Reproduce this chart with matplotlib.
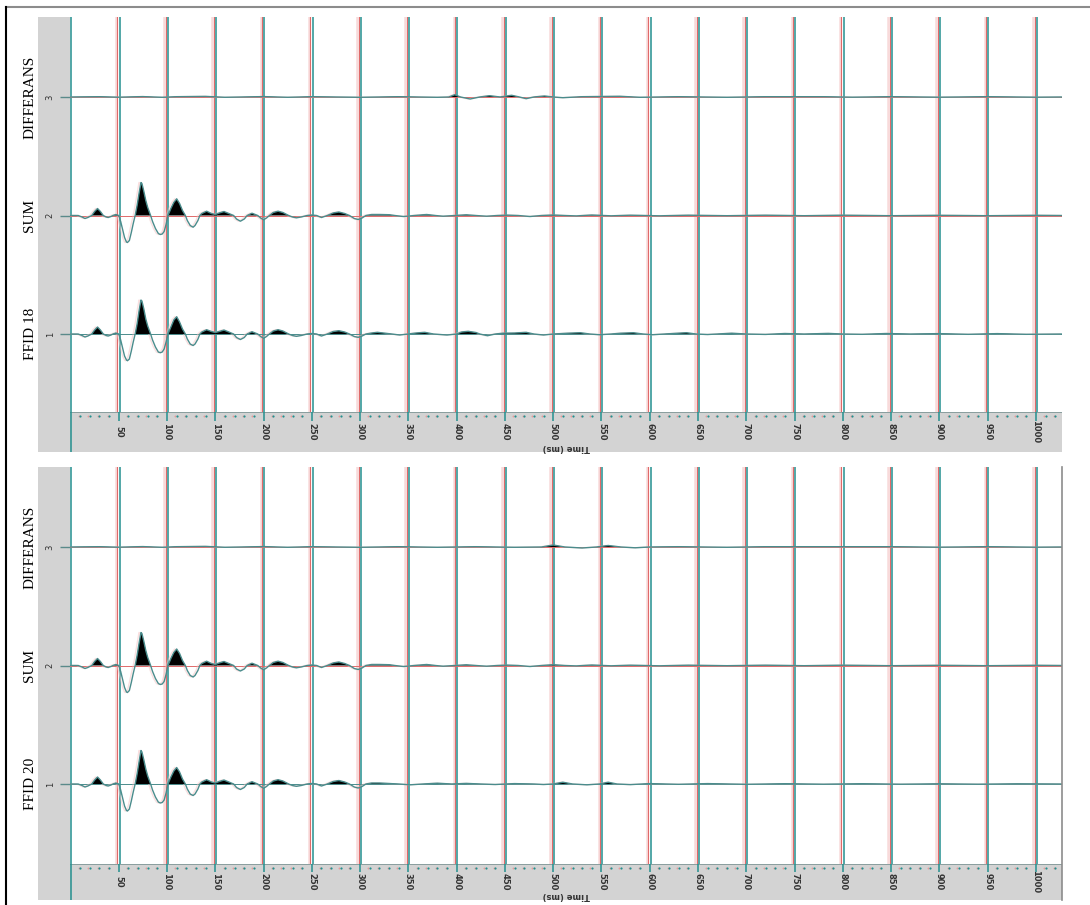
import numpy as np
import matplotlib.pyplot as plt
from matplotlib.lines import Line2D
from matplotlib.patches import Rectangle
from matplotlib.transforms import blended_transform_factory

W, H = 1090, 905

# ---- data -------------------------------------------------------------
# trace labels from bottom (1) to top (3)
LABELS_TOP = ["FFID 18", "SUM", "DIFFERANS"]
LABELS_BOT = ["FFID 20", "SUM", "DIFFERANS"]
TRACE_NO = ["1", "2", "3"]
TICK_MS = [50, 100, 150, 200, 250, 300, 350, 400, 450, 500,
           550, 600, 650, 700, 750, 800, 850, 900, 950, 1000]

# shared time samples (ms) for the first-arrival part of the traces
T_HEAD = [0, 8, 12, 15, 18, 22, 25, 28, 31, 34,
          37, 39, 42, 44, 47, 50, 52, 54, 56, 58,
          59, 61, 63, 65, 67, 69, 71, 73, 74, 76,
          78, 80, 83, 85, 88, 91, 93, 95, 97, 99,
          101, 104, 107, 110, 113, 116, 119, 121, 124, 127,
          129, 132, 134, 136, 141, 146, 150, 154, 159, 164,
          169, 172, 176, 180, 183, 188, 194, 197, 200, 203,
          206, 210, 215, 220, 226, 230, 234, 239, 245, 250,
          255, 260, 266, 272, 278, 284, 289, 294, 298, 302,
          306]

SUM_TOP_HEAD = [0, 0, -1.5, -3, -2, 0, 4, 7, 4, 0,
                -1.5, -2, -1, 0, 1, 0, -6, -14, -22, -26.5,
                -27, -25, -17, -8, 0, 10, 22, 33, 32, 24,
                15, 8, 0, -6, -13, -18, -19, -18.5, -16, -9,
                0, 7, 13, 16.7, 12, 5, 0, -5, -10, -11.7,
                -10, -5, 0, 2, 4.3, 2, 1, 2.5, 4, 2,
                0, -3.5, -5.7, -3.5, 0, 2.3, 0, -2.5, -4.3, -2.5,
                0, 3, 4.3, 3, 0, -1.5, -2.3, -1.5, 0, 0.5,
                0, -2, 0, 2.5, 3.5, 2, 0, -3, -4, -2.5,
                0]
FFID18_HEAD = [0, 0, -1.5, -3, -2, 0, 4, 7, 4, 0,
               -1.5, -2, -1, 0, 1, 0, -6, -14, -22, -26,
               -26.7, -25, -17, -8, 0, 10, 23, 34, 33, 25,
               15, 8, 0, -6, -13, -18, -18.7, -18, -15, -8,
               0, 7, 14, 17.3, 12, 5, 0, -5, -10, -11.5,
               -10, -5, 0, 2, 4.3, 2.5, 1.5, 2.5, 4, 2,
               0, -3.5, -5.5, -3.5, 0, 2.3, 0, -2.5, -4.3, -2.5,
               0, 3, 4.3, 3, 0, -1.5, -2.3, -1.5, 0, 0.5,
               0, -2, 0, 2.5, 3.3, 2, 0, -2.5, -3.3, -2,
               0]
SUM_BOT_HEAD = [0, 0, -1.5, -3, -2, 0, 4, 7, 4, 0,
                -1.5, -2, -1, 0, 1, 0, -6, -14, -22, -26.5,
                -27, -25, -17, -8, 0, 10, 22, 33, 32, 24,
                15, 8, 0, -6, -13, -18, -19, -18.5, -16, -9,
                0, 7, 13, 16.5, 12, 5, 0, -5, -10, -11.5,
                -10, -5, 0, 2, 4.3, 2, 1, 2.5, 4, 2,
                0, -3.5, -5.5, -3.5, 0, 2.3, 0, -2.5, -4.3, -2.5,
                0, 3, 4.3, 3, 0, -1.5, -2.3, -1.5, 0, 0.5,
                0, -2, 0, 2.5, 3.5, 2, 0, -3, -4, -2.5,
                0]
FFID20_HEAD = [0, 0, -1.5, -3, -2, 0, 4, 7, 4, 0,
               -1.5, -2, -1, 0, 1, 0, -6, -14, -22, -26.5,
               -27, -25, -17, -8, 0, 10, 22, 33.5, 32, 24,
               15, 8, 0, -6, -13, -18, -19, -18.5, -16, -9,
               0, 7, 13, 16.5, 12, 5, 0, -5, -10, -11.5,
               -10, -5, 0, 2, 4.3, 2, 1, 2.5, 4, 2,
               0, -3.5, -5.5, -3.5, 0, 2.3, 0, -2.5, -4.3, -2.5,
               0, 3, 4.3, 3, 0, -1.5, -2.3, -1.5, 0, 0.5,
               0, -2, 0, 2.5, 3.5, 2, 0, -3, -4, -2.5,
               0]

# later part of each trace: (ms) and amplitude
T_SUM_TOP_TAIL = [312, 320, 330, 336, 345, 356, 369, 378, 386, 398, 410, 420, 431, 442,
                  452, 464, 476, 488, 500, 512, 524, 540, 560, 580, 610, 640, 680, 720,
                  760, 800, 850, 900, 950, 1000, 1027]
A_SUM_TOP_TAIL = [1, 1, 0.8, 0, -1, 0, 1, 0, -0.7, 0, 0.7, 0, -0.7, 0,
                  0.4, 0, -1, 0, 0.5, 0, -0.4, 0.5, -0.3, 0.3, -0.3, 0.3, -0.2, 0.3,
                  -0.2, 0.3, -0.2, 0.2, -0.2, 0.2, 0]

T_FFID18_TAIL = [312, 318, 326, 333, 341, 350, 358, 367, 376, 390, 400, 405, 412, 420,
                 424, 432, 440, 448, 460, 472, 480, 490, 500, 515, 528, 538, 548, 560,
                 570, 583, 593, 603, 615, 627, 638, 648, 660, 685, 700, 720, 740, 760,
                 785, 800, 820, 845, 870, 900, 930, 960, 990, 1027]
A_FFID18_TAIL = [1, 1.7, 0.8, 0, -1, 0, 1, 1.7, 0, -1, 0, 2, 2.7, 1.5,
                 0, -1.7, 0, 0.8, 1, 1.7, 0, -1, 0, 0.8, 1.3, 0, -0.7, 0,
                 0.8, 1.3, 0, -0.7, 0, 0.8, 1.3, 0, -0.5, 0.8, 0, -0.4, 0.5, 0,
                 0.6, 0, -0.3, 0.5, 0, 0.4, -0.3, 0.4, -0.3, 0]

T_SUM_BOT_TAIL = [312, 320, 330, 336, 345, 356, 369, 378, 386, 398, 410, 420, 431, 442,
                  452, 464, 476, 488, 500, 512, 524, 540, 560, 580, 610, 640, 680, 720,
                  760, 800, 850, 900, 950, 1000, 1027]
A_SUM_BOT_TAIL = [1, 1, 0.8, 0, -1, 0, 1, 0, -0.7, 0, 0.7, 0, -0.7, 0,
                  0.4, 0, -1, 0, 0.8, 0, -0.4, 0.5, -0.3, 0.3, -0.3, 0.3, -0.2, 0.3,
                  -0.2, 0.3, -0.2, 0.2, -0.2, 0.2, 0]

T_FFID20_TAIL = [312, 320, 330, 340, 352, 365, 380, 395, 410, 425, 440, 460, 480, 490,
                 500, 510, 520, 535, 548, 557, 566, 580, 600, 630, 660, 700, 740, 780,
                 820, 860, 900, 940, 980, 1027]
A_FFID20_TAIL = [1, 1, 0.5, 0, -0.8, 0, 0.8, 0, 0.6, 0, -0.5, 0.4, 0, -0.5,
                 0, 1.8, 0, -0.8, 0, 1.8, 0, -0.6, 0.4, -0.3, 0.4, -0.3, 0.3, -0.2,
                 0.3, -0.2, 0.2, -0.2, 0.2, 0]

T_DIFF_TOP = [0, 30, 50, 75, 95, 110, 140, 160, 200, 225, 250, 300, 340, 380,
              392, 398, 404, 414, 424, 434, 445, 457, 465, 472, 480, 491, 500, 510,
              530, 569, 590, 630, 680, 720, 780, 810, 850, 900, 950, 1000, 1027]
A_DIFF_TOP = [0, 0.3, -0.2, 0.4, -0.3, 0.3, 0.6, -0.3, 0.4, -0.3, 0.3, -0.3, 0.3, -0.3,
              0, 2.3, 0, -2, 0, 1.3, 0, 1.7, 0, -1.7, 0, 1, 0, -0.7,
              0.3, 0.7, -0.3, 0.3, -0.3, 0.3, 0.3, -0.2, 0.3, -0.2, 0.3, -0.2, 0]

T_DIFF_BOT = [0, 30, 50, 75, 95, 110, 140, 160, 200, 225, 250, 300, 340, 380,
              420, 460, 488, 500, 512, 530, 545, 557, 570, 585, 600, 630, 680, 720,
              780, 850, 900, 950, 1000, 1027]
A_DIFF_BOT = [0, 0.3, -0.2, 0.4, -0.3, 0.3, 0.6, -0.3, 0.4, -0.3, 0.3, -0.3, 0.3, -0.3,
              0.3, -0.3, 0, 2, 0, -1, 0, 1.5, 0, -0.8, 0, 0.3, -0.3, 0.3,
              0.3, 0.3, -0.2, 0.3, -0.2, 0]

# ---- style ------------------------------------------------------------
RED = "#e06a6a"
TEAL = "#23908f"
PINK = "#f8dada"
WIGGLE = "#4a8c8c"
GRAY = "#d3d3d3"
GAIN = 1 / 118.5          # amplitude unit -> trace spacing
XLIM = (-0.5, 1027)
SERIF = "Liberation Serif"

fig = plt.figure(figsize=(W / 100, H / 100), dpi=100)
fig.patch.set_facecolor("white")


def box(x0, y0, x1, y1):
    return [x0 / W, 1 - y1 / H, (x1 - x0) / W, (y1 - y0) / H]


def draw_panel(top, bottom, strip_bottom, ylim, labels, traces):
    fig.add_artist(Rectangle((38 / W, 1 - strip_bottom / H), (1062 - 38) / W,
                             (strip_bottom - top) / H, transform=fig.transFigure,
                             facecolor=GRAY, edgecolor="none", zorder=0))
    ax = fig.add_axes(box(70, top, 1062, bottom))
    ax.set_facecolor("white")
    ax.set_xlim(XLIM)
    ax.set_ylim(ylim)
    for s in ax.spines.values():
        s.set_visible(False)
    ax.set_xticks([])
    ax.set_yticks([1, 2, 3])
    ax.set_yticklabels(TRACE_NO, rotation=90, va="center", fontsize=6, color="#333333")
    ax.tick_params(axis="y", length=7, width=1, color="#5a8a8a", pad=4)

    # time lines every 50 ms (red/teal double line)
    for t in [0] + TICK_MS:
        ax.axvline(t - 3.0, color=PINK, lw=1.8, zorder=1)
        ax.axvline(t - 1.4, color=RED, lw=0.8, zorder=2)
        ax.axvline(t + 0.8, color=TEAL, lw=1.1, zorder=2)

    for i, (tt, aa) in enumerate(traces):
        y0 = i + 1
        tt = np.asarray(tt, float)
        aa = np.asarray(aa, float)
        ax.axhline(y0, color=RED if i > 0 else WIGGLE, lw=0.7, zorder=3)
        ax.plot(tt - 2.0, y0 + aa * GAIN, color="#f4c0c0", lw=1.0, alpha=0.5, zorder=3)
        ax.fill_between(tt, y0, y0 + aa * GAIN, where=aa > 0, interpolate=True,
                        color="black", lw=0, zorder=4)
        ax.plot(tt, y0 + aa * GAIN, color=WIGGLE, lw=1.0, zorder=5)

    trans = blended_transform_factory(fig.transFigure, ax.transData)
    for i, lab in enumerate(labels):
        ax.text(30 / W, i + 1, lab, transform=trans, rotation=90, ha="center",
                va="center", fontsize=11, family=SERIF, color="black")

    # time axis strip
    sx = fig.add_axes(box(70, bottom, 1062, strip_bottom))
    sx.set_facecolor(GRAY)
    sx.set_xlim(XLIM)
    sx.set_ylim(0, 1)
    sx.set_xticks([])
    sx.set_yticks([])
    for s in sx.spines.values():
        s.set_visible(False)
    sx.axhline(1, color="#8a9e9e", lw=1.4)
    sx.axvline(-1.4, color=RED, lw=0.8)
    sx.axvline(0.8, color=TEAL, lw=1.1)
    minor = [m for m in range(10, 1021, 10) if m % 50]
    sx.scatter(np.array(minor) - 1.5, [0.89] * len(minor), s=2, color="#e89a9a", lw=0)
    sx.scatter(minor, [0.89] * len(minor), s=2.5, color=TEAL, lw=0)
    sx.vlines(TICK_MS, 0.78, 1, color=TEAL, lw=1.1)
    for t in TICK_MS:
        sx.text(t, 0.5, str(t), rotation=270, ha="center", va="center",
                fontsize=6, color="#333333", fontweight="bold")
    sx.text(np.mean(XLIM), 0.12, "Time (ms)", rotation=180, ha="center", va="center",
            fontsize=6, color="#333333", fontweight="bold")
    return ax


top_traces = [(np.r_[T_HEAD, T_FFID18_TAIL], np.r_[FFID18_HEAD, A_FFID18_TAIL]),
              (np.r_[T_HEAD, T_SUM_TOP_TAIL], np.r_[SUM_TOP_HEAD, A_SUM_TOP_TAIL]),
              (T_DIFF_TOP, A_DIFF_TOP)]
bot_traces = [(np.r_[T_HEAD, T_FFID20_TAIL], np.r_[FFID20_HEAD, A_FFID20_TAIL]),
              (np.r_[T_HEAD, T_SUM_BOT_TAIL], np.r_[SUM_BOT_HEAD, A_SUM_BOT_TAIL]),
              (T_DIFF_BOT, A_DIFF_BOT)]

draw_panel(17, 412, 452, (0.342, 3.675), LABELS_TOP, top_traces)
draw_panel(467, 864, 900, (0.325, 3.675), LABELS_BOT, bot_traces)

# outer frame
fig.add_artist(Line2D([6 / W, 1.0], [1 - 7 / H, 1 - 7 / H], transform=fig.transFigure,
                      color="#8c8c8c", lw=1.5))
fig.add_artist(Line2D([6 / W, 6 / W], [0, 1 - 7 / H], transform=fig.transFigure,
                      color="black", lw=1.5))
fig.add_artist(Line2D([1062 / W, 1062 / W], [1 - 900 / H, 1 - 467 / H],
                      transform=fig.transFigure, color="#8c8c8c", lw=1.2))

fig.savefig("out.png", dpi=100)
